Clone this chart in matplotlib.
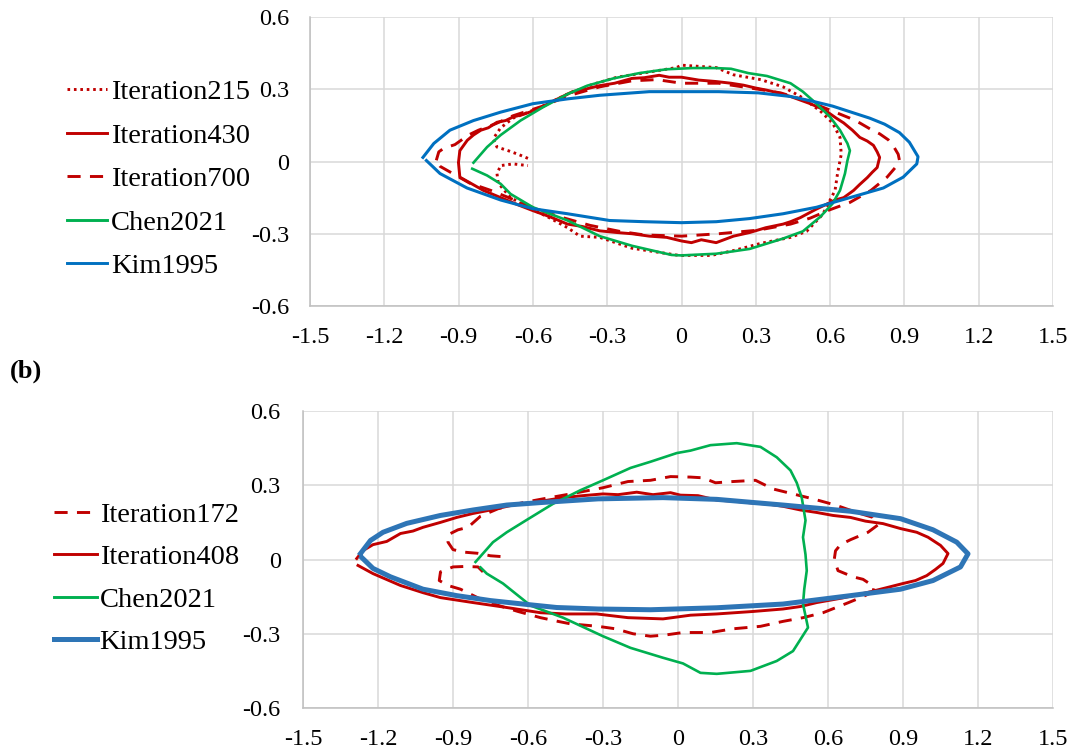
import matplotlib
matplotlib.use("Agg")
import matplotlib.pyplot as plt
from matplotlib.lines import Line2D

plt.rcParams['font.family'] = ['Liberation Serif', 'DejaVu Serif']

# ---------------- data: panel (a) ----------------
a_it215_x = [-0.62, -0.66, -0.70, -0.745, -0.76, -0.73, -0.68, -0.57, -0.46, -0.36, -0.26, -0.17, -0.02, 0.0, 0.14,
             0.21, 0.32, 0.41, 0.48, 0.56, 0.61, 0.64, 0.645, 0.63, 0.62, 0.57, 0.505, 0.44, 0.32, 0.21, 0.12,
             -0.01, -0.2, -0.33, -0.41, -0.46, -0.54, -0.62, -0.69, -0.74, -0.745, -0.73, -0.68, -0.62]
a_it215_y = [0.013, 0.03, 0.045, 0.06, 0.095, 0.14, 0.18, 0.225, 0.28, 0.32, 0.35, 0.365, 0.39, 0.40, 0.39,
             0.36, 0.34, 0.31, 0.27, 0.21, 0.16, 0.10, 0.03, -0.05, -0.12, -0.22, -0.29, -0.315, -0.34, -0.37, -0.39,
             -0.39, -0.36, -0.315, -0.31, -0.275, -0.23, -0.19, -0.15, -0.09, -0.05, -0.017, -0.01, -0.017]

a_it430_x = [-0.90, -0.895, -0.865, -0.84, -0.81, -0.78, -0.745, -0.71, -0.68, -0.64, -0.6, -0.565, -0.53, -0.49,
             -0.44, -0.39, -0.33, -0.27, -0.2, -0.15, -0.09, -0.05, 0.0, 0.07, 0.14, 0.2, 0.25, 0.30, 0.345, 0.39,
             0.44, 0.48, 0.52, 0.56, 0.59, 0.625, 0.655, 0.69, 0.72, 0.75, 0.775, 0.79, 0.80, 0.79, 0.77, 0.75,
             0.72, 0.695, 0.655, 0.62, 0.59, 0.54, 0.48, 0.44, 0.41, 0.34, 0.275, 0.21, 0.14, 0.08, 0.04, 0.0,
             -0.06, -0.13, -0.2, -0.26, -0.33, -0.40, -0.46, -0.53, -0.6, -0.66, -0.73, -0.8, -0.855, -0.895, -0.9]
a_it430_y = [0.0, 0.045, 0.088, 0.11, 0.13, 0.14, 0.163, 0.17, 0.185, 0.195, 0.21, 0.225, 0.245, 0.265,
             0.29, 0.30, 0.315, 0.325, 0.345, 0.348, 0.358, 0.35, 0.35, 0.338, 0.332, 0.325, 0.317, 0.305, 0.296, 0.285,
             0.27, 0.255, 0.24, 0.222, 0.205, 0.18, 0.16, 0.13, 0.10, 0.085, 0.067, 0.04, 0.017, -0.025, -0.045, -0.067,
             -0.095, -0.12, -0.15, -0.16, -0.175, -0.2, -0.233, -0.25, -0.26, -0.275, -0.295, -0.31, -0.337, -0.325, -0.337, -0.33,
             -0.315, -0.31, -0.30, -0.295, -0.288, -0.27, -0.26, -0.23, -0.204, -0.18, -0.15, -0.12, -0.088, -0.065, -0.01]

a_it700_x = [-0.99, -0.98, -0.96, -0.915, -0.86, -0.82, -0.75, -0.68, -0.56, -0.45, -0.33, -0.2, -0.1, 0.0, 0.15,
             0.31, 0.40, 0.48, 0.56, 0.62, 0.68, 0.72, 0.77, 0.80, 0.835, 0.855, 0.875, 0.88, 0.87, 0.83, 0.765,
             0.68, 0.60, 0.52, 0.44, 0.31, 0.15, 0.0, -0.15, -0.25, -0.37, -0.49, -0.58, -0.65, -0.77, -0.855,
             -0.915, -0.975, -0.99]
a_it700_y = [0.005, 0.04, 0.055, 0.07, 0.11, 0.13, 0.157, 0.19, 0.23, 0.275, 0.31, 0.335, 0.34, 0.325, 0.325,
             0.30, 0.285, 0.26, 0.23, 0.205, 0.18, 0.16, 0.13, 0.115, 0.09, 0.065, 0.03, 0.005, -0.017, -0.065, -0.12,
             -0.17, -0.20, -0.235, -0.26, -0.285, -0.30, -0.31, -0.305, -0.29, -0.265, -0.23, -0.2, -0.17, -0.12, -0.09,
             -0.055, -0.02, 0.0]

a_chen_x = [-0.84, -0.785, -0.73, -0.65, -0.56, -0.46, -0.38, -0.275, -0.17, -0.06, 0.045, 0.135, 0.2, 0.27, 0.345,
            0.44, 0.49, 0.545, 0.60, 0.64, 0.67, 0.68, 0.67, 0.66, 0.64, 0.61, 0.56, 0.49, 0.41, 0.275, 0.14, 0.0,
            -0.04, -0.2, -0.33, -0.46, -0.6, -0.69, -0.73, -0.785, -0.845]
a_chen_y = [-0.005, 0.06, 0.11, 0.17, 0.225, 0.28, 0.315, 0.345, 0.367, 0.383, 0.388, 0.388, 0.385, 0.367, 0.355,
            0.325, 0.29, 0.24, 0.185, 0.13, 0.075, 0.045, 0.004, -0.05, -0.12, -0.175, -0.23, -0.29, -0.32, -0.363, -0.383, -0.39,
            -0.388, -0.35, -0.31, -0.245, -0.19, -0.135, -0.093, -0.058, -0.03]

a_kim_x = [-1.044, -1.0, -0.935, -0.84, -0.73, -0.6, -0.46, -0.33, -0.13, 0.0, 0.15, 0.31, 0.44, 0.53, 0.61, 0.70,
           0.76, 0.82, 0.88, 0.92, 0.955, 0.95, 0.895, 0.815, 0.68, 0.545, 0.41, 0.275, 0.14, 0.0, -0.15, -0.29,
           -0.46, -0.6, -0.73, -0.866, -0.975, -1.03]
a_kim_y = [0.017, 0.075, 0.13, 0.17, 0.205, 0.24, 0.26, 0.275, 0.29, 0.29, 0.29, 0.285, 0.27, 0.25, 0.23, 0.20,
           0.18, 0.155, 0.12, 0.08, 0.02, -0.01, -0.065, -0.11, -0.15, -0.19, -0.217, -0.237, -0.25, -0.254, -0.25, -0.245,
           -0.217, -0.196, -0.16, -0.11, -0.05, 0.004]

# ---------------- data: panel (b) ----------------
b_it172_x = [-0.71, -0.75, -0.8, -0.86, -0.9, -0.92, -0.92, -0.88, -0.84, -0.79, -0.72, -0.62, -0.54, -0.43, -0.3,
             -0.2, -0.11, -0.03, 0.05, 0.10, 0.15, 0.22, 0.31, 0.38, 0.46, 0.54, 0.63, 0.715, 0.78, 0.80, 0.76,
             0.69, 0.65, 0.63, 0.625, 0.64, 0.70, 0.74, 0.785, 0.78, 0.74, 0.68, 0.58, 0.50, 0.42, 0.33, 0.22,
             0.13, 0.02, -0.05, -0.11, -0.18, -0.25, -0.32, -0.43, -0.48, -0.55, -0.64, -0.72, -0.8, -0.87, -0.92,
             -0.955, -0.95, -0.9, -0.85, -0.8, -0.78]
b_it172_y = [0.012, 0.015, 0.025, 0.03, 0.04, 0.07, 0.10, 0.12, 0.13, 0.175, 0.205, 0.23, 0.245, 0.265, 0.29,
             0.315, 0.32, 0.335, 0.333, 0.33, 0.31, 0.315, 0.32, 0.285, 0.265, 0.245, 0.22, 0.19, 0.17, 0.14, 0.11,
             0.08, 0.06, 0.035, 0.0, -0.045, -0.07, -0.08, -0.11, -0.13, -0.15, -0.175, -0.215, -0.235, -0.25, -0.27, -0.28,
             -0.295, -0.295, -0.305, -0.31, -0.30, -0.28, -0.27, -0.26, -0.25, -0.235, -0.21, -0.185, -0.155, -0.12, -0.105,
             -0.085, -0.05, -0.03, -0.028, -0.03, -0.05]

b_it408_x = [-1.285, -1.26, -1.22, -1.165, -1.11, -1.06, -1.02, -0.95, -0.885, -0.82, -0.75, -0.66, -0.55, -0.46,
             -0.38, -0.3, -0.24, -0.165, -0.1, -0.03, 0.01, 0.08, 0.155, 0.23, 0.30, 0.36, 0.42, 0.49, 0.555, 0.62,
             0.69, 0.75, 0.82, 0.89, 0.955, 1.0, 1.05, 1.08, 1.06, 1.03, 0.995, 0.95, 0.9, 0.83, 0.755, 0.66,
             0.555, 0.49, 0.42, 0.3, 0.155, 0.05, -0.06, -0.2, -0.325, -0.45, -0.55, -0.685, -0.82, -0.95, -1.02,
             -1.11, -1.22, -1.28]
b_it408_y = [0.004, 0.036, 0.06, 0.073, 0.105, 0.115, 0.13, 0.15, 0.17, 0.186, 0.2, 0.22, 0.235, 0.25,
             0.258, 0.265, 0.262, 0.272, 0.262, 0.27, 0.26, 0.258, 0.24, 0.235, 0.228, 0.224, 0.215, 0.2, 0.19, 0.178,
             0.17, 0.155, 0.145, 0.125, 0.11, 0.09, 0.057, 0.024, -0.016, -0.04, -0.065, -0.085, -0.097, -0.115, -0.134, -0.155,
             -0.174, -0.19, -0.2, -0.21, -0.22, -0.225, -0.24, -0.235, -0.22, -0.22, -0.215, -0.194, -0.174, -0.154, -0.134,
             -0.105, -0.057, -0.024]

b_chen_x = [-0.81, -0.74, -0.685, -0.605, -0.5, -0.46, -0.39, -0.3, -0.19, -0.11, -0.005, 0.05, 0.13, 0.235, 0.33,
            0.395, 0.45, 0.475, 0.495, 0.51, 0.5, 0.51, 0.515, 0.505, 0.5, 0.52, 0.46, 0.395, 0.29, 0.155, 0.09,
            0.02, -0.06, -0.19, -0.3, -0.46, -0.59, -0.7, -0.765, -0.79]
b_chen_y = [-0.01, 0.07, 0.11, 0.16, 0.225, 0.245, 0.28, 0.32, 0.37, 0.395, 0.43, 0.44, 0.462, 0.47, 0.455,
            0.413, 0.36, 0.31, 0.25, 0.158, 0.09, 0.02, -0.045, -0.12, -0.18, -0.275, -0.37, -0.41, -0.45, -0.462, -0.458,
            -0.42, -0.397, -0.357, -0.31, -0.235, -0.186, -0.097, -0.057, -0.032]

b_kim_x = [-1.27, -1.23, -1.18, -1.085, -0.95, -0.82, -0.685, -0.55, -0.32, -0.06, 0.155, 0.42, 0.69, 0.89, 1.02,
           1.115, 1.16, 1.13, 1.02, 0.89, 0.69, 0.42, 0.155, -0.11, -0.32, -0.485, -0.62, -0.75, -0.885, -1.02,
           -1.15, -1.22, -1.265]
b_kim_y = [0.024, 0.077, 0.11, 0.146, 0.178, 0.2, 0.22, 0.23, 0.245, 0.25, 0.243, 0.22, 0.195, 0.165, 0.12,
           0.07, 0.023, -0.03, -0.085, -0.12, -0.146, -0.18, -0.195, -0.203, -0.2, -0.194, -0.18, -0.166, -0.146, -0.12,
           -0.07, -0.036, 0.008]

# ---------------- ticks ----------------
x_ticks = [-1.5, -1.2, -0.9, -0.6, -0.3, 0.0, 0.3, 0.6, 0.9, 1.2, 1.5]
x_labels = ["-1.5", "-1.2", "-0.9", "-0.6", "-0.3", "0", "0.3", "0.6", "0.9", "1.2", "1.5"]
y_ticks = [-0.6, -0.3, 0.0, 0.3, 0.6]
y_labels = ["-0.6", "-0.3", "0", "0.3", "0.6"]

RED = '#C00000'
GREEN = '#00B050'
BLUE_A = '#0070C0'
BLUE_B = '#2E75B6'
DOT = (0, (0.9, 1.3))
DASH = (0, (4.5, 3.2))
LW_R = 2.1
LW_G = 1.9

fig = plt.figure(figsize=(10.75, 7.55), dpi=100)
ax1 = fig.add_axes([310 / 1075, 1 - 306 / 755, 743 / 1075, 289 / 755])
ax2 = fig.add_axes([303 / 1075, 1 - 708 / 755, 750 / 1075, 297 / 755])


def style(ax, xpad, ypad):
    ax.set_xlim(-1.5, 1.5)
    ax.set_ylim(-0.6, 0.6)
    ax.set_xticks(x_ticks)
    ax.set_xticklabels(x_labels)
    ax.set_yticks(y_ticks)
    ax.set_yticklabels(y_labels)
    ax.grid(True, color='#d9d9d9', lw=1.1)
    ax.set_axisbelow(True)
    for s in ['top', 'right']:
        ax.spines[s].set_visible(False)
    for s in ['left', 'bottom']:
        ax.spines[s].set_color('#bfbfbf')
        ax.spines[s].set_linewidth(1.1)
    ax.tick_params(axis='both', length=0, labelsize=17.5, colors='black')
    ax.tick_params(axis='x', pad=xpad)
    ax.tick_params(axis='y', pad=ypad)


style(ax1, 15, 15)
style(ax2, 15, 16)

# panel (a)
ax1.plot(a_it215_x, a_it215_y, color=RED, lw=LW_R, linestyle=DOT)
ax1.plot(a_it430_x, a_it430_y, color=RED, lw=LW_R)
ax1.plot(a_it700_x, a_it700_y, color=RED, lw=LW_R, linestyle=DASH)
ax1.plot(a_chen_x, a_chen_y, color=GREEN, lw=LW_G)
ax1.plot(a_kim_x, a_kim_y, color=BLUE_A, lw=2.2)

# panel (b)
ax2.plot(b_it172_x, b_it172_y, color=RED, lw=LW_R, linestyle=DASH)
ax2.plot(b_it408_x, b_it408_y, color=RED, lw=LW_R)
ax2.plot(b_chen_x, b_chen_y, color=GREEN, lw=LW_G)
ax2.plot(b_kim_x, b_kim_y, color=BLUE_B, lw=3.6)

h1 = [Line2D([], [], color=RED, lw=LW_R, linestyle=DOT),
      Line2D([], [], color=RED, lw=LW_R),
      Line2D([], [], color=RED, lw=LW_R, linestyle=DASH),
      Line2D([], [], color=GREEN, lw=LW_R),
      Line2D([], [], color=BLUE_A, lw=LW_R)]
l1 = ["Iteration215", "Iteration430", "Iteration700", "Chen2021", "Kim1995"]
fig.legend(h1, l1, loc='upper left', bbox_to_anchor=(67 / 1075, 1 - 79 / 755), frameon=False,
           fontsize=20.5, handlelength=1.4, handletextpad=0.15, labelspacing=0.62,
           borderpad=0, borderaxespad=0)

h2 = [Line2D([], [], color=RED, lw=LW_R, linestyle=DASH),
      Line2D([], [], color=RED, lw=LW_R),
      Line2D([], [], color=GREEN, lw=LW_R),
      Line2D([], [], color=BLUE_B, lw=3.6)]
l2 = ["Iteration172", "Iteration408", "Chen2021", "Kim1995"]
fig.legend(h2, l2, loc='upper left', bbox_to_anchor=(54 / 1075, 1 - 502 / 755), frameon=False,
           fontsize=20.5, handlelength=1.5, handletextpad=0.1, labelspacing=0.58,
           borderpad=0, borderaxespad=0)

fig.text(10 / 1075, 1 - 371 / 755, "(b)", fontsize=19, fontweight='bold', va='center', ha='left')

fig.savefig("out.png", dpi=100)
